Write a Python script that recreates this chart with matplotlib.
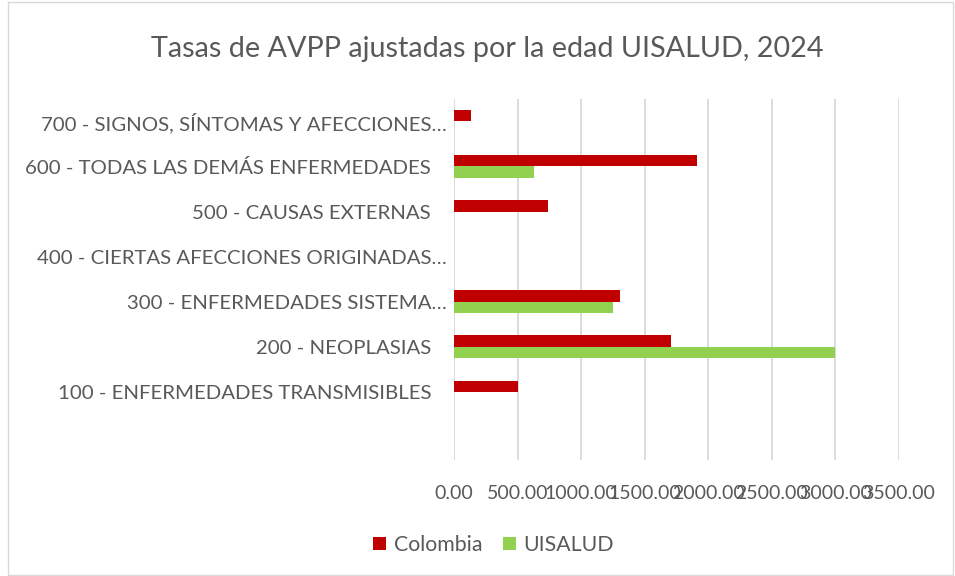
import matplotlib.pyplot as plt
import matplotlib.transforms as mtransforms
import numpy as np

categorias = ['',
              '100 - ENFERMEDADES TRANSMISIBLES',
              '200 - NEOPLASIAS',
              '300 - ENFERMEDADES SISTEMA…',
              '400 - CIERTAS AFECCIONES ORIGINADAS…',
              '500 - CAUSAS EXTERNAS',
              '600 - TODAS LAS DEMÁS ENFERMEDADES',
              '700 - SIGNOS, SÍNTOMAS Y AFECCIONES…']
colombia = [0, 503, 1705, 1309, 0, 742, 1914, 131]
uisalud = [0, 0, 2995, 1251, 0, 0, 627, 0]
ticks_x = [0, 500, 1000, 1500, 2000, 2500, 3000, 3500]

gris = '#595959'
plt.rcParams['font.family'] = ['Lato', 'DejaVu Sans']

fig = plt.figure(figsize=(9.55, 5.76), dpi=100)
ax = fig.add_axes([0.4754, 0.2017, 0.466, 0.627])

y = np.arange(len(categorias)) - 1
h = 0.255
ax.barh(y + h / 2, colombia, height=h, color='#C00000', label='Colombia')
ax.barh(y - h / 2, uisalud, height=h, color='#92D050', label='UISALUD')

ax.set_xlim(0, 3500)
ax.set_ylim(-1.5, 6.5)
ax.set_xticks(ticks_x)
ax.set_xticklabels(['%.2f' % t for t in ticks_x])
ax.set_yticks(y)
ax.set_yticklabels(categorias)
ax.tick_params(axis='x', length=0, pad=18, labelsize=14, colors=gris)
ax.tick_params(axis='y', length=0, pad=16.5, labelsize=14.7, colors=gris)
ax.grid(axis='x', color='#D9D9D9', linewidth=1.3)
ax.set_axisbelow(True)
for s in ax.spines.values():
    s.set_visible(False)

# las etiquetas recortadas quedan algo mas a la derecha
desplaza = mtransforms.ScaledTranslation(16 / 100, 0, fig.dpi_scale_trans)
for lab in ax.get_yticklabels():
    if lab.get_text().endswith('…'):
        lab.set_transform(lab.get_transform() + desplaza)

fig.text(0.51, 0.915, 'Tasas de AVPP ajustadas por la edad UISALUD, 2024',
         ha='center', va='center', fontsize=20.7, color=gris)

fig.legend(loc='center', bbox_to_anchor=(0.517, 0.054), ncol=2, frameon=False,
           fontsize=15.3, labelcolor=gris, handlelength=0.6, handleheight=0.6,
           columnspacing=1.0, handletextpad=0.35)

fig.patches.append(plt.Rectangle((0.008, 0.002), 0.99, 0.995, transform=fig.transFigure,
                                 fill=False, edgecolor='#D9D9D9', linewidth=1))

fig.savefig('out.png', dpi=100)
